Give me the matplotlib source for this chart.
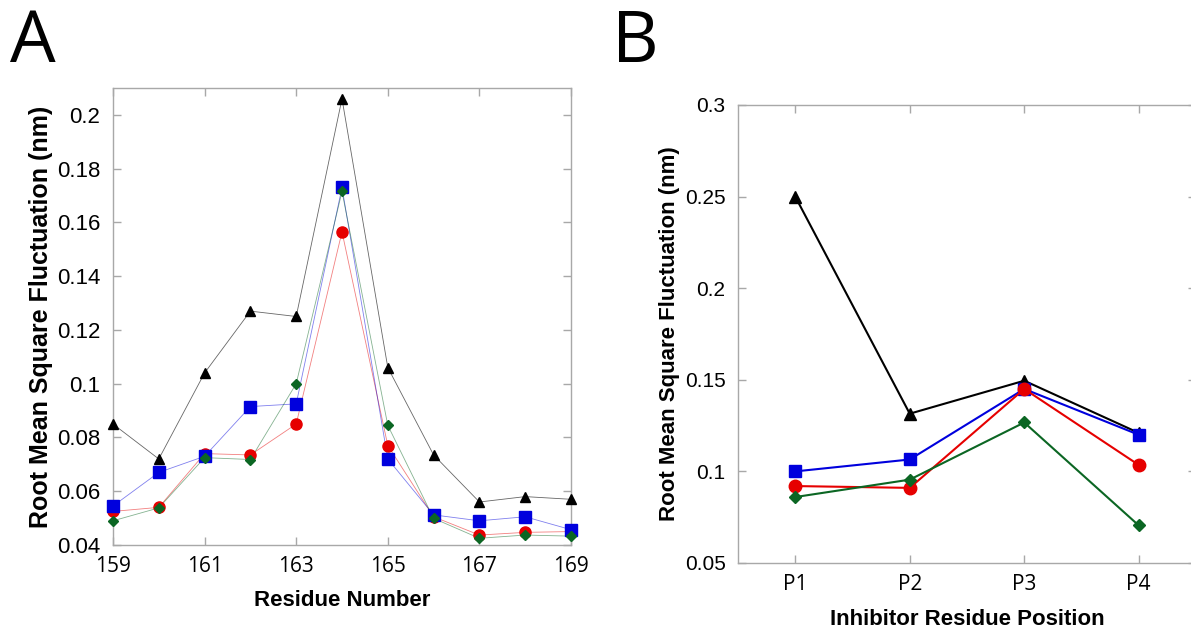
import matplotlib.pyplot as plt
from matplotlib.ticker import FuncFormatter

# Panel A: RMSF per residue
residues = [159, 160, 161, 162, 163, 164, 165, 166, 167, 168, 169]
a_black = [0.085, 0.072, 0.104, 0.127, 0.125, 0.206, 0.106, 0.0735, 0.056, 0.058, 0.057]
a_red = [0.0525, 0.054, 0.074, 0.0735, 0.085, 0.1565, 0.077, 0.0505, 0.0437, 0.0447, 0.045]
a_blue = [0.0545, 0.067, 0.073, 0.0915, 0.0925, 0.173, 0.072, 0.0512, 0.049, 0.0505, 0.0457]
a_green = [0.049, 0.0538, 0.0725, 0.0718, 0.1, 0.1715, 0.0845, 0.0499, 0.0425, 0.0437, 0.0433]

# Panel B: RMSF per inhibitor residue
positions = ['P1', 'P2', 'P3', 'P4']
b_black = [0.25, 0.1315, 0.1495, 0.121]
b_red = [0.092, 0.091, 0.145, 0.1035]
b_blue = [0.1, 0.1065, 0.145, 0.12]
b_green = [0.086, 0.0955, 0.1267, 0.0705]

BLUE = '#0000dd'
RED = '#e60000'
GREEN = '#0b6623'
SPINE = '#a8a8a8'

fig = plt.figure(figsize=(11.91, 6.28), dpi=100)
axA = fig.add_axes([113 / 1191, 1 - 545 / 628, 458 / 1191, 457 / 628])
axB = fig.add_axes([738 / 1191, 1 - 563 / 628, 458 / 1191, 458 / 628])

fmt = FuncFormatter(lambda v, p: '%g' % round(v, 3))


def style_axes(ax, ysize, xsize):
    for s in ax.spines.values():
        s.set_color(SPINE)
        s.set_linewidth(1.0)
    ax.tick_params(direction='in', top=True, right=True, color=SPINE,
                   length=6, width=1.0)
    ax.tick_params(axis='y', labelsize=ysize, pad=9)
    ax.tick_params(axis='x', labelsize=xsize, pad=8)
    for lab in ax.get_yticklabels():
        lab.set_family('Liberation Sans')
    for lab in ax.get_xticklabels():
        lab.set_family('Open Sans')
    ax.yaxis.set_major_formatter(fmt)


# ---- Panel A
xa = residues
for ys, c, a in [(a_black, 'black', 0.6), (a_red, RED, 0.5),
                 (a_blue, BLUE, 0.5), (a_green, GREEN, 0.5)]:
    axA.plot(xa, ys, color=c, lw=0.6, alpha=a, zorder=2)
# markers fully opaque, drawn over the lines
for ys, m, c, ms, z in [(a_black, '^', 'black', 7, 3), (a_red, 'o', RED, 8, 4),
                        (a_blue, 's', BLUE, 8, 5), (a_green, 'D', GREEN, 5, 6)]:
    axA.plot(xa, ys, ls='none', marker=m, ms=ms, color=c, zorder=z,
             clip_on=False)

axA.set_xlim(159, 169)
axA.set_ylim(0.04, 0.21)
axA.set_xticks([159, 161, 163, 165, 167, 169])
axA.set_yticks([0.04, 0.06, 0.08, 0.1, 0.12, 0.14, 0.16, 0.18, 0.2])
style_axes(axA, 16, 15)
axA.set_xlabel('Residue Number', fontsize=16, fontweight='bold',
               family='Liberation Sans', labelpad=9)
axA.set_ylabel('Root Mean Square Fluctuation (nm)', fontsize=18,
               fontweight='bold', family='Liberation Sans', labelpad=3)

# ---- Panel B
xb = list(range(1, len(positions) + 1))
axB.plot(xb, b_black, color='black', lw=1.5, marker='^', ms=8, zorder=3)
axB.plot(xb, b_red, color=RED, lw=1.5, marker='o', ms=9, zorder=4)
axB.plot(xb, b_blue, color=BLUE, lw=1.5, marker='s', ms=9, zorder=3.5)
axB.plot(xb, b_green, color=GREEN, lw=1.5, marker='D', ms=6, zorder=5)
axB.set_xlim(0.5, 4.5)
axB.set_ylim(0.05, 0.3)
axB.set_xticks(xb)
axB.set_xticklabels(positions)
axB.set_yticks([0.05, 0.1, 0.15, 0.2, 0.25, 0.3])
style_axes(axB, 15, 15)
axB.set_xlabel('Inhibitor Residue Position', fontsize=16, fontweight='bold',
               family='Liberation Sans', labelpad=10)
axB.set_ylabel('Root Mean Square Fluctuation (nm)', fontsize=16,
               fontweight='bold', family='Liberation Sans', labelpad=3)

# panel letters
fig.text(10 / 1191, 1 - 62 / 628, 'A', fontsize=52, family='Open Sans')
fig.text(612 / 1191, 1 - 62 / 628, 'B', fontsize=52, family='Open Sans')

fig.savefig('out.png', dpi=100)
